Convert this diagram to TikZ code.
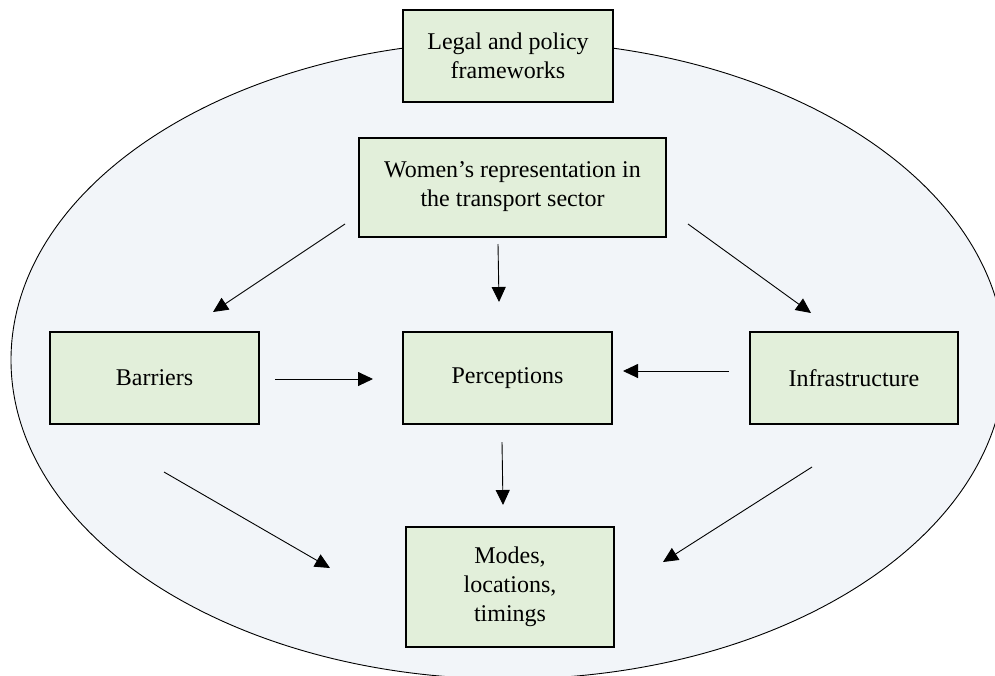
\documentclass[tikz,border=0pt]{standalone}
\usepackage{fontspec}
\setmainfont{Liberation Serif}
\usetikzlibrary{arrows.meta}
\definecolor{ellfill}{HTML}{F2F5F9}
\definecolor{boxfill}{HTML}{E2EFDA}
\tikzset{
  boxnode/.style={draw=black, line width=2pt, fill=boxfill, align=center,
    inner sep=0pt, font=\fontsize{24}{29}\selectfont},
  arr/.style={line width=0.9pt, -{Triangle[length=15pt,width=14pt]}}
}
\begin{document}
\begin{tikzpicture}[x=1pt,y=-1pt]
\useasboundingbox (0,0) rectangle (995,675);
\fill[white] (0,0) rectangle (995,675);
\filldraw[fill=ellfill, draw=black, line width=0.9pt] (508,360) ellipse [x radius=497pt, y radius=319pt];

\node[boxnode, minimum width=210pt, minimum height=92pt] (legal) at (508,56) {Legal and policy\\frameworks};
\node[boxnode, minimum width=307pt, minimum height=99pt] (women) at (512.5,187) {Women’s representation in\\the transport sector};
\node[boxnode, minimum width=209pt, minimum height=92pt] (barriers) at (154.5,378) {Barriers};
\node[boxnode, minimum width=209pt, minimum height=92pt] (perc) at (507.5,378) {Perceptions};
\node[boxnode, minimum width=208pt, minimum height=92pt] (infra) at (854,378) {Infrastructure};
\node[boxnode, minimum width=208pt, minimum height=120pt] (modes) at (510,587) {Modes,\\locations,\\timings};

\coordinate (wb1) at (345,224); \coordinate (wb2) at (213,312);
\coordinate (wp1) at (498,244); \coordinate (wp2) at (499,302);
\coordinate (wi1) at (688,224); \coordinate (wi2) at (811,313);
\coordinate (bp1) at (275,379); \coordinate (bp2) at (373,379);
\coordinate (ip1) at (729,371); \coordinate (ip2) at (623,371);
\coordinate (pm1) at (502,442); \coordinate (pm2) at (503,505);
\coordinate (bm1) at (164,472); \coordinate (bm2) at (330,568);
\coordinate (im1) at (812,467); \coordinate (im2) at (663,562);

\draw[arr] (wb1) -- (wb2);
\draw[arr] (wp1) -- (wp2);
\draw[arr] (wi1) -- (wi2);
\draw[arr] (bp1) -- (bp2);
\draw[arr] (ip1) -- (ip2);
\draw[arr] (pm1) -- (pm2);
\draw[arr] (bm1) -- (bm2);
\draw[arr] (im1) -- (im2);
\end{tikzpicture}
\end{document}
